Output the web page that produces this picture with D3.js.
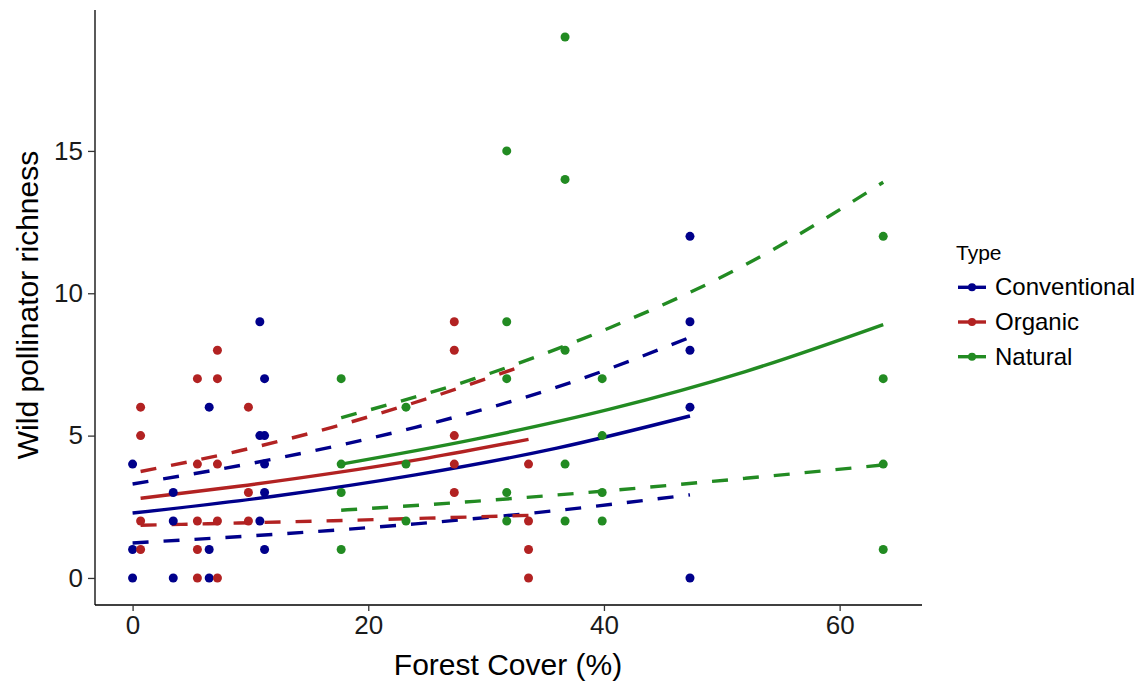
<!DOCTYPE html>
<html>
<head>
<meta charset="utf-8">
<script src="https://cdn.jsdelivr.net/npm/d3@7"></script>
<style>
  body { margin: 0; background: #fff; }
  text { font-family: "Liberation Sans", Arial, sans-serif; }
</style>
</head>
<body>
<script>
var W = 1140, H = 681;

// series
var types = ["Conventional", "Organic", "Natural"];
var colors = ["#00008B", "#B22222", "#228B22"];

// observed points (forest cover %, richness)
var convX = [0, 0, 0, 3.45, 3.45, 3.45, 6.5, 6.5, 6.5, 10.8, 10.8, 10.8, 11.2, 11.2, 11.2, 11.2, 11.2, 47.3, 47.3, 47.3, 47.3, 47.3];
var convY = [0, 1, 4, 0, 2, 3, 0, 1, 6, 9, 5, 2, 7, 5, 4, 3, 1, 12, 9, 8, 6, 0];
var orgX = [0.68, 0.68, 0.68, 0.68, 5.5, 5.5, 5.5, 5.5, 5.5, 7.2, 7.2, 7.2, 7.2, 7.2, 9.83, 9.83, 9.83, 27.3, 27.3, 27.3, 27.3, 27.3, 33.6, 33.6, 33.6, 33.6];
var orgY = [6, 5, 2, 1, 7, 4, 2, 1, 0, 8, 7, 4, 2, 0, 6, 3, 2, 9, 8, 5, 4, 3, 4, 2, 1, 0];
var natX = [17.7, 17.7, 17.7, 17.7, 23.2, 23.2, 23.2, 31.75, 31.75, 31.75, 31.75, 31.75, 36.7, 36.7, 36.7, 36.7, 36.7, 39.85, 39.85, 39.85, 39.85, 63.7, 63.7, 63.7, 63.7];
var natY = [7, 4, 3, 1, 6, 4, 2, 15, 9, 7, 3, 2, 19, 14, 8, 4, 2, 7, 5, 3, 2, 12, 7, 4, 1];

// fitted lines
var convFitX = [0, 12, 24, 36, 47.3];
var convFit = [2.28, 2.87, 3.62, 4.56, 5.69];
var convUp = [3.3, 4.18, 5.29, 6.7, 8.45];
var convLo = [1.23, 1.53, 1.9, 2.37, 2.92];
var orgFitX = [0.68, 9, 17, 25, 33.6];
var orgFit = [2.8, 3.22, 3.68, 4.21, 4.87];
var orgUp = [3.74, 4.46, 5.3, 6.3, 7.52];
var orgLo = [1.85, 1.93, 2.01, 2.1, 2.2];
var natFitX = [17.7, 29, 40.5, 52, 63.7];
var natFit = [4.0, 4.87, 5.93, 7.25, 8.9];
var natUp = [5.63, 7.0, 8.79, 11.0, 13.9];
var natLo = [2.38, 2.69, 3.07, 3.5, 3.97];

var xTicks = [0, 20, 40, 60];
var yTicks = [0, 5, 10, 15];

var pts = [[convX, convY], [orgX, orgY], [natX, natY]];
var fits = [[convFitX, convFit, convUp, convLo], [orgFitX, orgFit, orgUp, orgLo], [natFitX, natFit, natUp, natLo]];

var svg = d3.select("body").append("svg")
  .attr("width", W).attr("height", H);

var x = d3.scaleLinear().domain([-3.19, 66.99]).range([95, 922]);
var y = d3.scaleLinear().domain([-0.95, 19.95]).range([605, 10]);

// axes
var xAxis = svg.append("g").attr("transform", "translate(0,605)")
  .call(d3.axisBottom(x).tickValues(xTicks).tickSize(6).tickPadding(5));
var yAxis = svg.append("g").attr("transform", "translate(95,0)")
  .call(d3.axisLeft(y).tickValues(yTicks).tickSize(7).tickPadding(5));
[xAxis, yAxis].forEach(function(a) {
  a.select(".domain").attr("stroke", "#000").attr("stroke-width", 1.3);
  a.selectAll(".tick line").attr("stroke", "#333").attr("stroke-width", 1.3);
  a.selectAll(".tick text").attr("font-size", 26).attr("fill", "#1a1a1a")
    .style("font-family", "Liberation Sans, Arial, sans-serif");
});
xAxis.select(".domain").attr("d", "M95,0H922");
yAxis.select(".domain").attr("d", "M0,10V605");

svg.append("text").attr("x", 508).attr("y", 675)
  .attr("text-anchor", "middle").attr("font-size", 30).text("Forest Cover (%)");
svg.append("text").attr("transform", "translate(38,305) rotate(-90)")
  .attr("text-anchor", "middle").attr("font-size", 30).text("Wild pollinator richness");

// fitted lines
var line = d3.line().x(function(d) { return x(d[0]); }).y(function(d) { return y(d[1]); })
  .curve(d3.curveMonotoneX);

fits.forEach(function(f, i) {
  var g = svg.append("g");
  [f[2], f[3]].forEach(function(arr) {
    g.append("path").datum(d3.zip(f[0], arr)).attr("d", line)
      .attr("fill", "none").attr("stroke", colors[i]).attr("stroke-width", 3.4)
      .attr("stroke-dasharray", "16,15");
  });
  g.append("path").datum(d3.zip(f[0], f[1])).attr("d", line)
    .attr("fill", "none").attr("stroke", colors[i]).attr("stroke-width", 3.4);
});

// points
pts.forEach(function(p, i) {
  svg.append("g").selectAll("circle")
    .data(d3.zip(p[0], p[1]))
    .enter().append("circle")
    .attr("cx", function(d) { return x(d[0]); })
    .attr("cy", function(d) { return y(d[1]); })
    .attr("r", 4.5)
    .attr("fill", colors[i]);
});

// legend
var leg = svg.append("g").attr("transform", "translate(955,0)");
leg.append("text").attr("x", 1).attr("y", 260).attr("font-size", 21).text("Type");
types.forEach(function(t, i) {
  var yy = 287.3 + i * 34.7;
  leg.append("line").attr("x1", 3).attr("x2", 31).attr("y1", yy).attr("y2", yy)
    .attr("stroke", colors[i]).attr("stroke-width", 3.4);
  leg.append("circle").attr("cx", 17).attr("cy", yy).attr("r", 4).attr("fill", colors[i]);
  leg.append("text").attr("x", 40).attr("y", yy + 8).attr("font-size", 24).text(t);
});
</script>
</body>
</html>
